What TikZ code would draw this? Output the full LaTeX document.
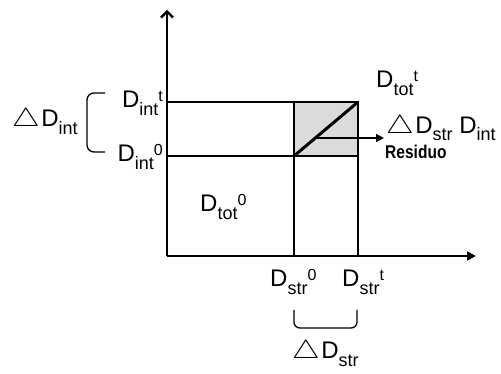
\documentclass[tikz,border=0pt]{standalone}
\usepackage{fontspec}
\setmainfont{Liberation Sans}
\usetikzlibrary{arrows.meta}

\newcommand{\lo}[2][8pt]{\raisebox{-#1}{\fontsize{18}{18}\selectfont #2}}
\newcommand{\hi}[1]{\raisebox{6pt}{\fontsize{16}{16}\selectfont #1}}
\newcommand{\Dq}[2]{D\lo{#1}\hi{#2}}
\newcommand{\dlt}{\scalebox{1.25}[1.05]{$\triangle$}\kern1.5pt}

\begin{document}
\begin{tikzpicture}[x=1pt, y=-1pt,
    axis/.style={line width=2.3pt},
    thin/.style={line width=1.3pt},
    lbl/.style={font=\fontsize{24}{26}\selectfont, inner sep=0pt},
    bold/.style={font=\fontsize{18.5}{20}\selectfont\bfseries, inner sep=0pt},
  ]
  \useasboundingbox (0,0) rectangle (501,374);

  % corner points of the plot
  \coordinate (O)   at (167,256);
  \coordinate (ytip) at (167,10);
  \coordinate (xtip) at (476,256);
  \coordinate (s0)  at (294,256);
  \coordinate (st)  at (358,256);
  \coordinate (i0)  at (167,156);
  \coordinate (it)  at (167,102);
  \coordinate (c0)  at (294,156);
  \coordinate (ct)  at (358,102);
  \coordinate (cx)  at (358,156);
  \coordinate (cy)  at (294,102);

  % residual box
  \fill[gray!28] (c0) rectangle (ct);
  \draw[thin] (i0) -- (cx) -- (st);
  \draw[thin] (it) -- (ct);
  \draw[thin] (s0) -- (cy) -- (ct) -- (cx);
  \draw[line width=3pt] (c0) -- (ct);

  % axes
  \draw[axis, -{Straight Barb[length=6pt, width=12pt]}] (O) -- (ytip);
  \draw[axis, -{Triangle[length=9pt, width=9pt]}] (O) -- (xtip);

  % labels on the axes
  \node[lbl, anchor=base east] (dit) at (163,108) {\Dq{int}{t}};
  \node[lbl, anchor=base east] (di0) at (163,162) {\Dq{int}{0}};
  \node[lbl, anchor=base west] (ds0) at (270,287) {\Dq{str}{0}};
  \node[lbl, anchor=base west] (dst) at (342,287) {\Dq{str}{t}};
  \node[lbl, anchor=base west] (dtt) at (376,88) {\Dq{tot}{t}};
  \node[lbl, anchor=base west] (dt0) at (200,212) {\Dq{tot}{0}};

  % braces
  \draw[thin, rounded corners=7pt] (105,93) -- (87,93) -- (87,152) -- (105,152);
  \draw[thin, rounded corners=6pt] (294,310) -- (294,328) -- (357,328) -- (357,310);
  \node[lbl, anchor=base west] (ddi) at (12,127) {\dlt D\lo{int}};
  \node[lbl, anchor=base west] (dds) at (292,358) {\dlt D\lo{str}};

  % residual label
  \coordinate (rfoot) at (315,138);
  \coordinate (rtip)  at (384,138);
  \draw[thin, -{Triangle[length=8pt, width=8pt]}] (rfoot) -- (rtip);
  \node[lbl, anchor=base west] (dsi) at (386,134) {\dlt D\lo[6.5pt]{str} D\lo[6.5pt]{int}};
  \node[bold, anchor=base west] (res) at (385,159) {\scalebox{0.84}[1]{Residuo}};
\end{tikzpicture}
\end{document}
